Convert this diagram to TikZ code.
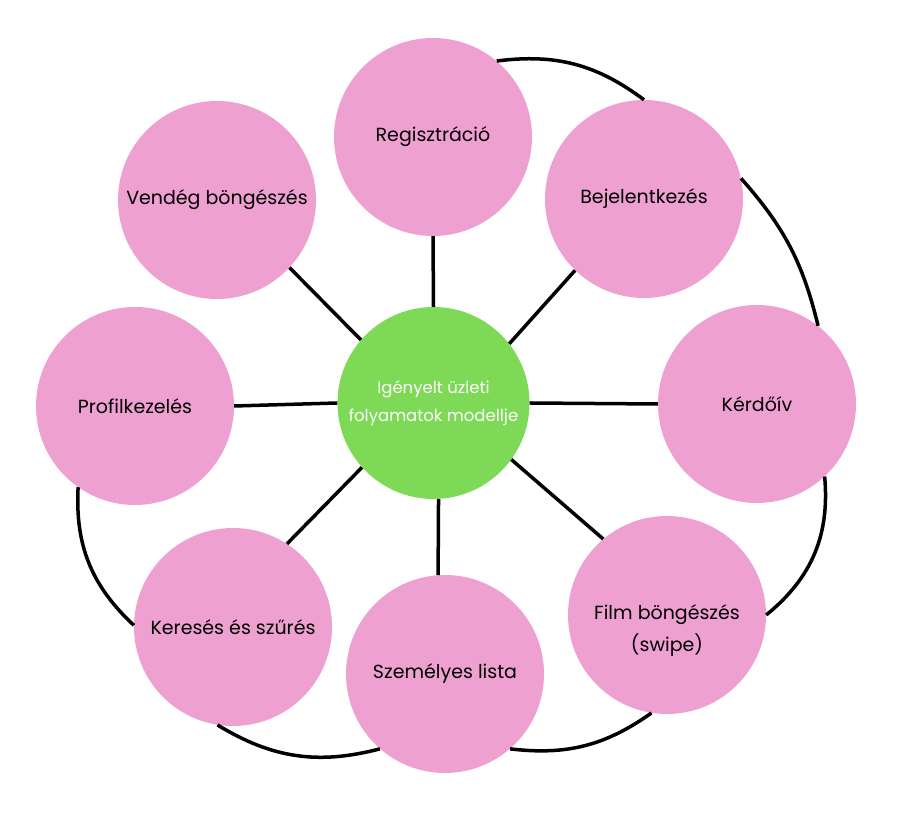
\documentclass[tikz,border=0pt]{standalone}
\usepackage{fontspec}
\setmainfont{Poppins}
\definecolor{pinkc}{HTML}{EEA1D1}
\definecolor{greenc}{HTML}{7ED957}
\tikzset{
  bubble/.style={circle, fill=pinkc, minimum size=198pt, inner sep=0pt, align=center, font=\fontsize{19}{32}\selectfont, text=black},
  hub/.style={circle, fill=greenc, minimum size=192pt, inner sep=0pt, align=center, font=\fontsize{16.5}{28}\selectfont, text=white},
  spoke/.style={line width=3.5pt, black},
  rim/.style={line width=3.5pt, black}
}
\begin{document}
\begin{tikzpicture}[x=1pt,y=1pt]
\useasboundingbox (0,0) rectangle (903,835);
\node[hub] (hub) at (433.5,432) {Igényelt üzleti\\folyamatok modellje};
\node[bubble] (reg) at (433,698) {Regisztráció};
\node[bubble] (bej) at (644,636) {Bejelentkezés};
\node[bubble] (ker) at (757,431) {Kérdőív};
\node[bubble, label={[yshift=-16pt, align=center, font=\fontsize{19}{32}\selectfont]center:Film böngészés\\(swipe)}] (film) at (667,220) {};
\node[bubble] (szem) at (445,161) {Személyes lista};
\node[bubble] (kers) at (233,208) {Keresés és szűrés};
\node[bubble] (prof) at (135,429) {Profilkezelés};
\node[bubble] (vend) at (217,635) {Vendég böngészés};
\draw[spoke] (hub.90) -- (reg.270);
\draw[spoke] (hub.38.8) -- (bej.226.2);
\draw[spoke] (hub.0) -- (ker.180);
\draw[spoke] (hub.-36) -- (film.130);
\draw[spoke] (hub.-87.3) -- (szem.94);
\draw[spoke] (hub.222.3) -- (kers.57.3);
\draw[spoke] (hub.180) -- (prof.0);
\draw[spoke] (hub.139.4) -- (vend.-43.8);
\draw[rim] (reg.50.6) to[bend left=22] (bej.90.6);
\draw[rim] (bej.12.3) to[bend left=14] (ker.52.4);
\draw[rim] (ker.-47) to[bend left=28] (film.0.6);
\draw[rim] (film.-99.4) to[bend left=21] (szem.-49);
\draw[rim] (szem.-131) to[bend left=23] (kers.-99.5);
\draw[rim] (kers.179) to[bend left=25] (prof.235.2);
\end{tikzpicture}
\end{document}
